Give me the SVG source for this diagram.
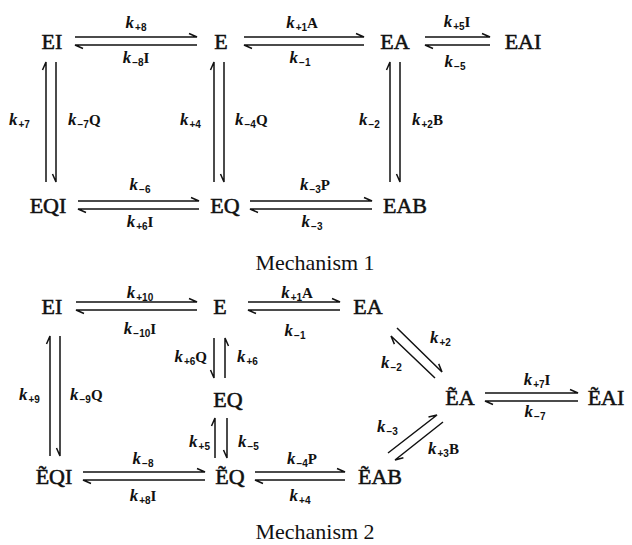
<svg xmlns="http://www.w3.org/2000/svg" width="632" height="545" viewBox="0 0 632 545">
  <style>
    .sp { font-family: "Liberation Serif", "DejaVu Serif", serif; font-size: 22px; text-anchor: middle; fill: #111; stroke: #111; stroke-width: 0.55; }
    .title { font-family: "Liberation Serif", serif; font-size: 22px; text-anchor: middle; fill: #111; }
    .lb { font-family: "Liberation Serif", serif; fill: #111; }
    .k { font-style: italic; font-weight: bold; font-size: 17px; }
    .s { font-family: "Liberation Sans", sans-serif; font-weight: bold; font-size: 10px; }
    .r { font-weight: bold; font-size: 15px; }
    .ar { fill: none; stroke: #111; stroke-width: 1.5; stroke-linejoin: miter; }
  </style>
  <rect width="632" height="545" fill="#fff"/>

  <!-- Mechanism 1 species -->
  <g id="m1-EI"><text class="sp" x="52" y="49">EI</text></g>
  <g id="m1-E"><text class="sp" x="221" y="49">E</text></g>
  <g id="m1-EA"><text class="sp" x="395" y="49">EA</text></g>
  <g id="m1-EAI"><text class="sp" x="523" y="49">EAI</text></g>
  <g id="m1-EQI"><text class="sp" x="48" y="213">EQI</text></g>
  <g id="m1-EQ"><text class="sp" x="225" y="213">EQ</text></g>
  <g id="m1-EAB"><text class="sp" x="405" y="213">EAB</text></g>
  <text class="title" x="315" y="270">Mechanism 1</text>

  <!-- Mechanism 2 species -->
  <g id="m2-EI"><text class="sp" x="52" y="314">EI</text></g>
  <g id="m2-E"><text class="sp" x="220" y="314">E</text></g>
  <g id="m2-EA"><text class="sp" x="368" y="314">EA</text></g>
  <g id="m2-EQ"><text class="sp" x="228" y="407">EQ</text></g>
  <g id="m2-tEA"><text class="sp" x="460" y="405">ẼA</text></g>
  <g id="m2-tEAI"><text class="sp" x="606" y="405">ẼAI</text></g>
  <g id="m2-tEQI"><text class="sp" x="54" y="484">ẼQI</text></g>
  <g id="m2-tEQ"><text class="sp" x="230" y="484">ẼQ</text></g>
  <g id="m2-tEAB"><text class="sp" x="380" y="484">ẼAB</text></g>
  <text class="title" x="315" y="539">Mechanism 2</text>

  <!-- Reversible steps: paired half-headed arrows -->
  <g id="connectors" class="ar">
    <!-- Mechanism 1, top row -->
    <path d="M75,37 H197 l-8,-3.5"/>
    <path d="M197,45 H75 l8,3.5"/>
    <path d="M244,37 H364 l-8,-3.5"/>
    <path d="M364,45 H244 l8,3.5"/>
    <path d="M425,37 H490 l-8,-3.5"/>
    <path d="M490,45 H425 l8,3.5"/>
    <!-- Mechanism 1, columns -->
    <path d="M46,182 V62 l-3.5,8"/>
    <path d="M56,62 V182 l-3.5,-8"/>
    <path d="M214,182 V62 l-3.5,8"/>
    <path d="M224,62 V182 l-3.5,-8"/>
    <path d="M390,182 V62 l-3.5,8"/>
    <path d="M400,62 V182 l-3.5,-8"/>
    <!-- Mechanism 1, bottom row -->
    <path d="M78,201 H199 l-8,-3.5"/>
    <path d="M199,209 H78 l8,3.5"/>
    <path d="M250,201 H372 l-8,-3.5"/>
    <path d="M372,209 H250 l8,3.5"/>

    <!-- Mechanism 2, top row -->
    <path d="M76,302 H197 l-8,-3.5"/>
    <path d="M197,310 H76 l8,3.5"/>
    <path d="M248,302 H340 l-8,-3.5"/>
    <path d="M340,310 H248 l8,3.5"/>
    <!-- Mechanism 2, EI / EQI column -->
    <path d="M50,456 V336 l-3.5,8"/>
    <path d="M60,336 V456 l-3.5,-8"/>
    <!-- Mechanism 2, E / EQ column -->
    <path d="M214,338 V378 l-3.5,-8"/>
    <path d="M225,378 V338 l3.5,8"/>
    <!-- Mechanism 2, EQ / tilde-EQ column -->
    <path d="M215,458 V418 l-3.5,8"/>
    <path d="M227,418 V458 l-3.5,-8"/>
    <!-- Mechanism 2, EA / tilde-EA diagonal -->
    <path d="M397,328 L442,372 l-3.3,-8.1"/>
    <path d="M435,378 L391,336 l3.4,8.1"/>
    <!-- Mechanism 2, tilde-EA / tilde-EAI -->
    <path d="M485,393 H578 l-8,-3.5"/>
    <path d="M578,401 H485 l8,3.5"/>
    <!-- Mechanism 2, tilde-EAB / tilde-EA diagonal -->
    <path d="M388,453 L437,415 l-8.5,2.1"/>
    <path d="M443,422 L395,460 l8.4,-2.2"/>
    <!-- Mechanism 2, bottom row -->
    <path d="M83,472 H205 l-8,-3.5"/>
    <path d="M205,480 H83 l8,3.5"/>
    <path d="M255,472 H345 l-8,-3.5"/>
    <path d="M345,480 H255 l8,3.5"/>
  </g>

  <!-- Rate constants -->
  <g id="labels" class="lb">
    <!-- Mechanism 1 -->
    <text x="136" y="28" text-anchor="middle"><tspan class="k">k</tspan><tspan class="s" dx="1" dy="3">+8</tspan></text>
    <text x="136" y="63" text-anchor="middle"><tspan class="k">k</tspan><tspan class="s" dx="1" dy="3">−8</tspan><tspan class="r" dy="-3">I</tspan></text>
    <text x="302" y="28" text-anchor="middle"><tspan class="k">k</tspan><tspan class="s" dx="1" dy="3">+1</tspan><tspan class="r" dy="-3">A</tspan></text>
    <text x="300" y="63" text-anchor="middle"><tspan class="k">k</tspan><tspan class="s" dx="1" dy="3">−1</tspan></text>
    <text x="457" y="27" text-anchor="middle"><tspan class="k">k</tspan><tspan class="s" dx="1" dy="3">+5</tspan><tspan class="r" dy="-3">I</tspan></text>
    <text x="455" y="67" text-anchor="middle"><tspan class="k">k</tspan><tspan class="s" dx="1" dy="3">−5</tspan></text>

    <text x="9" y="125"><tspan class="k">k</tspan><tspan class="s" dx="1" dy="3">+7</tspan></text>
    <text x="68" y="125"><tspan class="k">k</tspan><tspan class="s" dx="1" dy="3">−7</tspan><tspan class="r" dy="-3">Q</tspan></text>
    <text x="180" y="125"><tspan class="k">k</tspan><tspan class="s" dx="1" dy="3">+4</tspan></text>
    <text x="235" y="125"><tspan class="k">k</tspan><tspan class="s" dx="1" dy="3">−4</tspan><tspan class="r" dy="-3">Q</tspan></text>
    <text x="359" y="125"><tspan class="k">k</tspan><tspan class="s" dx="1" dy="3">−2</tspan></text>
    <text x="412" y="125"><tspan class="k">k</tspan><tspan class="s" dx="1" dy="3">+2</tspan><tspan class="r" dy="-3">B</tspan></text>

    <text x="140" y="190" text-anchor="middle"><tspan class="k">k</tspan><tspan class="s" dx="1" dy="3">−6</tspan></text>
    <text x="140" y="227" text-anchor="middle"><tspan class="k">k</tspan><tspan class="s" dx="1" dy="3">+6</tspan><tspan class="r" dy="-3">I</tspan></text>
    <text x="315" y="190" text-anchor="middle"><tspan class="k">k</tspan><tspan class="s" dx="1" dy="3">−3</tspan><tspan class="r" dy="-3">P</tspan></text>
    <text x="312" y="227" text-anchor="middle"><tspan class="k">k</tspan><tspan class="s" dx="1" dy="3">−3</tspan></text>

    <!-- Mechanism 2 -->
    <text x="140" y="298" text-anchor="middle"><tspan class="k">k</tspan><tspan class="s" dx="1" dy="3">+10</tspan></text>
    <text x="140" y="334" text-anchor="middle"><tspan class="k">k</tspan><tspan class="s" dx="1" dy="3">−10</tspan><tspan class="r" dy="-3">I</tspan></text>
    <text x="297" y="298" text-anchor="middle"><tspan class="k">k</tspan><tspan class="s" dx="1" dy="3">+1</tspan><tspan class="r" dy="-3">A</tspan></text>
    <text x="295" y="336" text-anchor="middle"><tspan class="k">k</tspan><tspan class="s" dx="1" dy="3">−1</tspan></text>

    <text x="207" y="362" text-anchor="end"><tspan class="k">k</tspan><tspan class="s" dx="1" dy="3">+6</tspan><tspan class="r" dy="-3">Q</tspan></text>
    <text x="237" y="362"><tspan class="k">k</tspan><tspan class="s" dx="1" dy="3">+6</tspan></text>
    <text x="19" y="400"><tspan class="k">k</tspan><tspan class="s" dx="1" dy="3">+9</tspan></text>
    <text x="70" y="400"><tspan class="k">k</tspan><tspan class="s" dx="1" dy="3">−9</tspan><tspan class="r" dy="-3">Q</tspan></text>
    <text x="210" y="447" text-anchor="end"><tspan class="k">k</tspan><tspan class="s" dx="1" dy="3">+5</tspan></text>
    <text x="238" y="447"><tspan class="k">k</tspan><tspan class="s" dx="1" dy="3">−5</tspan></text>

    <text x="430" y="343"><tspan class="k">k</tspan><tspan class="s" dx="1" dy="3">+2</tspan></text>
    <text x="381" y="368"><tspan class="k">k</tspan><tspan class="s" dx="1" dy="3">−2</tspan></text>
    <text x="537" y="385" text-anchor="middle"><tspan class="k">k</tspan><tspan class="s" dx="1" dy="3">+7</tspan><tspan class="r" dy="-3">I</tspan></text>
    <text x="535" y="417" text-anchor="middle"><tspan class="k">k</tspan><tspan class="s" dx="1" dy="3">−7</tspan></text>
    <text x="377" y="432"><tspan class="k">k</tspan><tspan class="s" dx="1" dy="3">−3</tspan></text>
    <text x="428" y="454"><tspan class="k">k</tspan><tspan class="s" dx="1" dy="3">+3</tspan><tspan class="r" dy="-3">B</tspan></text>

    <text x="143" y="464" text-anchor="middle"><tspan class="k">k</tspan><tspan class="s" dx="1" dy="3">−8</tspan></text>
    <text x="143" y="501" text-anchor="middle"><tspan class="k">k</tspan><tspan class="s" dx="1" dy="3">+8</tspan><tspan class="r" dy="-3">I</tspan></text>
    <text x="302" y="464" text-anchor="middle"><tspan class="k">k</tspan><tspan class="s" dx="1" dy="3">−4</tspan><tspan class="r" dy="-3">P</tspan></text>
    <text x="300" y="501" text-anchor="middle"><tspan class="k">k</tspan><tspan class="s" dx="1" dy="3">+4</tspan></text>
  </g>
</svg>
